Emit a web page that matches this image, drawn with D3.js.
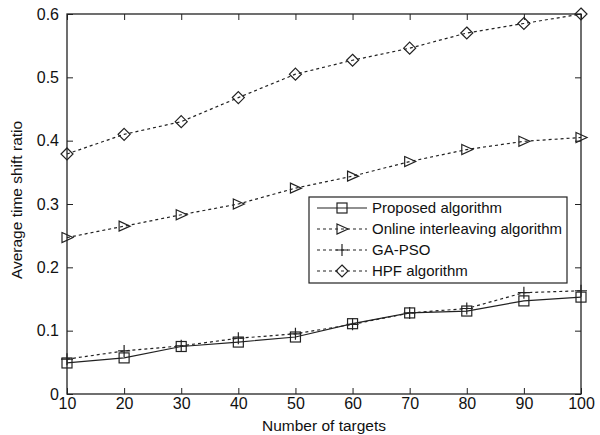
<!DOCTYPE html>
<html>
<head>
<meta charset="utf-8">
<script src="https://cdn.jsdelivr.net/npm/d3@7"></script>
<style>
  body { margin: 0; background: #fff; }
  svg text { font-family: "Liberation Sans", Arial, sans-serif; fill: #111; }
</style>
</head>
<body>
<div id="chart"></div>
<script>
// Number of targets on the x axis
const targets = [10, 20, 30, 40, 50, 60, 70, 80, 90, 100]

// Average time shift ratio per algorithm
const proposed = [0.049, 0.057, 0.075, 0.082, 0.090, 0.111, 0.128, 0.131, 0.147, 0.153]
const online = [0.247, 0.265, 0.283, 0.300, 0.325, 0.344, 0.367, 0.386, 0.399, 0.405]
const gapso = [0.055, 0.068, 0.076, 0.088, 0.095, 0.110, 0.128, 0.135, 0.160, 0.163]
const hpf = [0.379, 0.410, 0.430, 0.468, 0.505, 0.527, 0.546, 0.570, 0.585, 0.600]

const yTicks = [0, 0.1, 0.2, 0.3, 0.4, 0.5, 0.6]

const width = 600
const height = 435
const margin = { top: 14, right: 19, bottom: 41, left: 67 }

const svg = d3
  .select('#chart')
  .append('svg')
  .attr('width', width)
  .attr('height', height)

const x = d3
  .scaleLinear()
  .domain([10, 100])
  .range([margin.left, width - margin.right])

const y = d3
  .scaleLinear()
  .domain([0, 0.6])
  .range([height - margin.bottom, margin.top])

const ink = '#222'
const tickLen = 6

// Axes with inward ticks (MATLAB style box)
const fmt = (d) => (d === 0 ? '0' : d3.format('.1f')(d))

svg
  .append('g')
  .attr('transform', `translate(0,${y(0)})`)
  .call(d3.axisBottom(x).tickValues(targets).tickSize(-tickLen).tickPadding(4))
  .call((g) => g.select('.domain').remove())
  .call((g) => g.selectAll('line').attr('stroke', ink))
  .call((g) => g.selectAll('text').style('font-size', '16px'))

svg
  .append('g')
  .attr('transform', `translate(0,${y(0.6)})`)
  .call(d3.axisTop(x).tickValues(targets).tickSize(-tickLen).tickFormat(''))
  .call((g) => g.select('.domain').remove())
  .call((g) => g.selectAll('line').attr('stroke', ink))

svg
  .append('g')
  .attr('transform', `translate(${x(10)},0)`)
  .call(d3.axisLeft(y).tickValues(yTicks).tickSize(-tickLen).tickPadding(8).tickFormat(fmt))
  .call((g) => g.select('.domain').remove())
  .call((g) => g.selectAll('line').attr('stroke', ink))
  .call((g) => g.selectAll('text').style('font-size', '16px'))

svg
  .append('g')
  .attr('transform', `translate(${x(100)},0)`)
  .call(d3.axisRight(y).tickValues(yTicks).tickSize(-tickLen).tickFormat(''))
  .call((g) => g.select('.domain').remove())
  .call((g) => g.selectAll('line').attr('stroke', ink))

// Box
svg
  .append('rect')
  .attr('x', x(10))
  .attr('y', y(0.6))
  .attr('width', x(100) - x(10))
  .attr('height', y(0) - y(0.6))
  .attr('fill', 'none')
  .attr('stroke', ink)
  .attr('stroke-width', 1.3)

// Axis titles
svg
  .append('text')
  .attr('x', (x(10) + x(100)) / 2)
  .attr('y', height - 4)
  .attr('text-anchor', 'middle')
  .style('font-size', '15.5px')
  .text('Number of targets')

svg
  .append('text')
  .attr('transform', `translate(22,${(y(0) + y(0.6)) / 2 - 4}) rotate(-90)`)
  .attr('text-anchor', 'middle')
  .style('font-size', '15.5px')
  .text('Average time shift ratio')

// Marker drawing helpers
function marker(g, type) {
  const s = 5
  if (type === 'square') {
    g.append('rect')
      .attr('x', -s)
      .attr('y', -s)
      .attr('width', 2 * s)
      .attr('height', 2 * s)
      .attr('fill', 'none')
      .attr('stroke', ink)
      .attr('stroke-width', 1.2)
  } else if (type === 'triangle') {
    g.append('path')
      .attr('d', `M${-s},${-s}L${s + 1},0L${-s},${s}Z`)
      .attr('fill', 'none')
      .attr('stroke', ink)
      .attr('stroke-width', 1.2)
  } else if (type === 'plus') {
    g.append('path')
      .attr('d', `M${-s - 1},0H${s + 1}M0,${-s - 1}V${s + 1}`)
      .attr('stroke', ink)
      .attr('stroke-width', 1.2)
  } else if (type === 'diamond') {
    g.append('path')
      .attr('d', `M0,${-s - 1}L${s + 1},0L0,${s + 1}L${-s - 1},0Z`)
      .attr('fill', 'none')
      .attr('stroke', ink)
      .attr('stroke-width', 1.2)
  }
}

const series = [
  { name: 'Proposed algorithm', values: proposed, marker: 'square', dash: null },
  { name: 'Online interleaving algorithm', values: online, marker: 'triangle', dash: '3,3' },
  { name: 'GA-PSO', values: gapso, marker: 'plus', dash: '3,3' },
  { name: 'HPF algorithm', values: hpf, marker: 'diamond', dash: '3,3' },
]

const line = d3
  .line()
  .x((d, i) => x(targets[i]))
  .y((d) => y(d))

series.forEach((s) => {
  svg
    .append('path')
    .datum(s.values)
    .attr('d', line)
    .attr('fill', 'none')
    .attr('stroke', ink)
    .attr('stroke-width', 1.2)
    .attr('stroke-dasharray', s.dash)

  s.values.forEach((v, i) => {
    const g = svg.append('g').attr('transform', `translate(${x(targets[i])},${y(v)})`)
    marker(g, s.marker)
  })
})

// Legend
const legend = svg.append('g').attr('transform', 'translate(309,197)')
legend
  .append('rect')
  .attr('width', 258)
  .attr('height', 86)
  .attr('fill', '#fff')
  .attr('stroke', ink)
  .attr('stroke-width', 1.2)

series.forEach((s, i) => {
  const row = legend.append('g').attr('transform', `translate(0,${11 + i * 21})`)
  row
    .append('line')
    .attr('x1', 8)
    .attr('x2', 58)
    .attr('stroke', ink)
    .attr('stroke-width', 1.2)
    .attr('stroke-dasharray', s.dash)
  marker(row.append('g').attr('transform', 'translate(33,0)'), s.marker)
  row
    .append('text')
    .attr('x', 63)
    .attr('dy', '0.35em')
    .style('font-size', '15px')
    .text(s.name)
})
</script>
</body>
</html>
